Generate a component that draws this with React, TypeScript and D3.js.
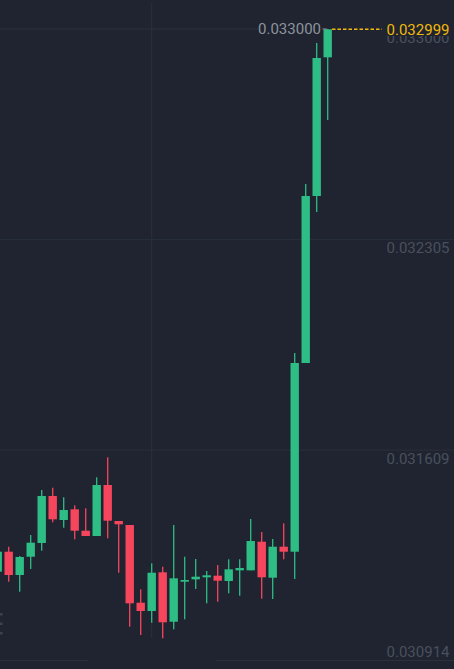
import React from "react";
import * as d3 from "d3";

const opens = [0.0312073, 0.0312734, 0.0311964, 0.0312568, 0.0313021, 0.0314574, 0.0313781, 0.0314134, 0.0313427, 0.0313252, 0.0314937, 0.0313748, 0.0313616, 0.0311049, 0.0310775, 0.0312053, 0.0310421, 0.0311743, 0.0311822, 0.0311888, 0.0311941, 0.0311766, 0.0312119, 0.0312119, 0.0313064, 0.0311875, 0.0312899, 0.0312734, 0.0318967, 0.0324483, 0.0329065];
const highs = [0.0312922, 0.0312899, 0.0312592, 0.0313285, 0.0314772, 0.0314848, 0.0314531, 0.0314266, 0.0314167, 0.0315191, 0.0315852, 0.0313748, 0.0313616, 0.0311492, 0.031235, 0.0312238, 0.0313616, 0.0312568, 0.0312493, 0.0312096, 0.0312294, 0.0312483, 0.0312483, 0.0313814, 0.0313384, 0.0313153, 0.0313672, 0.0319297, 0.032488, 0.0329538, 0.033];
const lows = [0.0311931, 0.0311743, 0.0311412, 0.0312162, 0.0312767, 0.0313705, 0.0313526, 0.0313143, 0.0313252, 0.0313252, 0.0313176, 0.031204, 0.0310256, 0.0309982, 0.0310388, 0.0309873, 0.031017, 0.0310501, 0.0311502, 0.0311029, 0.0311082, 0.0311359, 0.031128, 0.0312119, 0.0311181, 0.0311171, 0.0312483, 0.0311832, 0.0318967, 0.0323955, 0.0326994];
const closes = [0.0312734, 0.0311964, 0.0312559, 0.0313031, 0.0314574, 0.0313804, 0.0314111, 0.0313427, 0.0313252, 0.0314937, 0.0313758, 0.0313639, 0.0311029, 0.0310775, 0.031204, 0.0310402, 0.0311855, 0.0311799, 0.0311908, 0.0311954, 0.0311776, 0.0312152, 0.0312195, 0.0313087, 0.0311888, 0.0312899, 0.0312734, 0.0318967, 0.0324483, 0.0329042, 0.032999];

const tickValues = [0.033, 0.032305, 0.031609, 0.030914];
const tickLabels = ["0.033000", "0.032305", "0.031609", "0.030914"];
const lastPrice = 0.032999;
const lastPriceLabel = "0.032999";
const highMark = 0.033;
const highMarkLabel = "0.033000";
const timeLabel = "12/05 14:00";

const W = 454;
const H = 669;
const BG = "#1f2430";
const GRID = "#2a303c";
const DIM = "#4a505d";
const GREEN = "#2ebd85";
const RED = "#f6465d";
const YELLOW = "#f0b90b";
const FONT = "Roboto, 'Noto Sans', sans-serif";

export default function App() {
  const ids = opens.map((_, i) => i);
  const x = d3.scaleBand<number>().domain(ids).range([-7.8, 333.2]).paddingInner(0.236).paddingOuter(0.118);
  const y = d3.scaleLinear().domain([0.030914, 0.033]).range([660.5, 29]);
  const bw = x.bandwidth();

  return (
    <div style={{ position: "fixed", left: 0, top: 0 }}>
      <svg width={W} height={H} style={{ display: "block", background: BG }}>
        <rect x={0} y={0} width={W} height={H} fill={BG} />
        {/* vertical grid */}
        <line x1={151.7} x2={151.7} y1={3} y2={638} stroke={GRID} strokeWidth={1} />
        {/* horizontal grids */}
        <line x1={0} x2={258} y1={y(tickValues[0])} y2={y(tickValues[0])} stroke={GRID} />
        <line x1={0} x2={W} y1={y(tickValues[1])} y2={y(tickValues[1])} stroke={GRID} />
        <line x1={0} x2={W} y1={y(tickValues[2])} y2={y(tickValues[2])} stroke={GRID} />
        <line x1={0} x2={88} y1={y(tickValues[3])} y2={y(tickValues[3])} stroke={GRID} />
        <line x1={216} x2={W} y1={y(tickValues[3])} y2={y(tickValues[3])} stroke={GRID} />
        {/* axis labels */}
        {tickValues.map((v, i) => (
          <text
            key={i}
            x={449.5}
            y={i === tickValues.length - 1 ? y(v) - 3.5 : y(v) + 14}
            textAnchor="end"
            fontFamily={FONT}
            fontSize={15}
            fill={DIM}
          >
            {tickLabels[i]}
          </text>
        ))}
        {/* time label fragment */}
        <text x={112} y={680} fontFamily={FONT} fontSize={13} fill={DIM}>
          {timeLabel}
        </text>
        {/* left edge fragments */}
        {[613, 622.5, 632].map((yy, i) => (
          <rect key={i} x={0} y={yy} width={2.5} height={2.5} fill="#3c4250" />
        ))}
        {/* candles */}
        {ids.map((i) => {
          const up = closes[i] >= opens[i];
          const c = up ? GREEN : RED;
          const cx = (x(i) as number) + bw / 2;
          const top = y(Math.max(opens[i], closes[i]));
          const bot = y(Math.min(opens[i], closes[i]));
          const h = Math.max(1.6, bot - top);
          return (
            <g key={i}>
              <rect x={cx - 0.65} y={y(highs[i])} width={1.3} height={y(lows[i]) - y(highs[i])} fill={c} />
              <rect x={x(i)} y={top} width={bw} height={h} fill={c} />
            </g>
          );
        })}
        {/* high marker */}
        <line x1={322.5} x2={327} y1={y(highMark)} y2={y(highMark)} stroke="#8e939c" strokeWidth={1} />
        <text x={321} y={y(highMark) + 5.2} textAnchor="end" fontFamily={FONT} fontSize={15} fill="#8e939c">
          {highMarkLabel}
        </text>
        {/* last price line */}
        <line x1={332} x2={382} y1={y(lastPrice)} y2={y(lastPrice)} stroke={YELLOW} strokeWidth={1.4} strokeDasharray="3.5,2" />
        <rect x={384} y={19} width={70} height={17} fill={BG} />
        <text x={449.5} y={y(lastPrice) + 5.2} textAnchor="end" fontFamily={FONT} fontSize={15} fill={YELLOW}>
          {lastPriceLabel}
        </text>
      </svg>
    </div>
  );
}
